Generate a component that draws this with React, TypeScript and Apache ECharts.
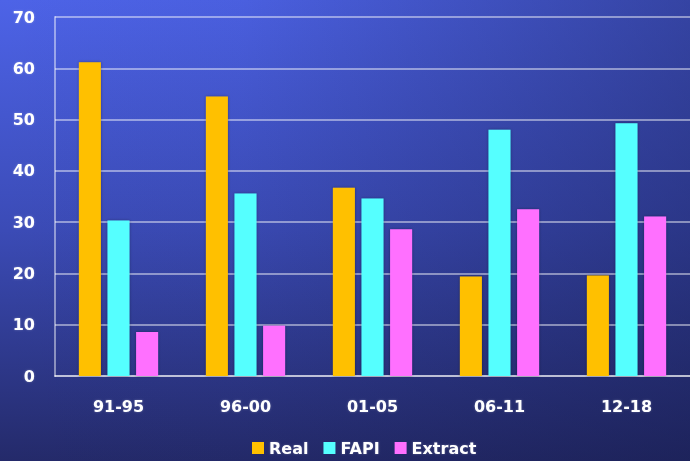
import React, { useEffect, useRef } from "react";
import * as echarts from "echarts";

const categories = ["91-95", "96-00", "01-05", "06-11", "12-18"];
const realValues = [61.2, 54.5, 36.7, 19.4, 19.6];
const fapiValues = [30.3, 35.6, 34.6, 48.0, 49.3];
const extractValues = [8.6, 9.8, 28.6, 32.5, 31.1];
const yTicks = { min: 0, max: 70, interval: 10 };

const FONT = "'DejaVu Sans', sans-serif";

export default function App() {
  const ref = useRef<HTMLDivElement>(null);
  useEffect(() => {
    document.body.style.margin = "0";
    const chart = echarts.init(ref.current!, undefined, { renderer: "svg" });
    const barStyle = (color: string) => ({
      color,
      shadowColor: "rgba(0,0,0,0.35)",
      shadowBlur: 3,
    });
    const labelStyle = {
      color: "#ffffff",
      fontWeight: "bold",
      fontSize: 16,
      fontFamily: FONT,
      textShadowColor: "rgba(255,255,255,0.25)",
      textShadowBlur: 2,
    };
    chart.setOption({
      animation: false,
      backgroundColor: {
        type: "linear",
        x: 0,
        y: 0,
        x2: 0,
        y2: 1,
        colorStops: [
          { offset: 0, color: "#4d63e7" },
          { offset: 0.5, color: "#3b4bb6" },
          { offset: 1, color: "#242a6a" },
        ],
      },
      graphic: [
        {
          type: "rect",
          silent: true,
          z: -10,
          shape: { x: 0, y: 0, width: 690, height: 461 },
          style: {
            fill: {
              type: "linear",
              x: 0,
              y: 0,
              x2: 1,
              y2: 0,
              colorStops: [
                { offset: 0, color: "rgba(20,25,70,0)" },
                { offset: 0.35, color: "rgba(20,25,70,0.05)" },
                { offset: 1, color: "rgba(20,25,70,0.42)" },
              ],
            },
          },
        },
      ],
      grid: { left: 55, width: 645, top: 17, bottom: 85 },
      legend: {
        left: 252,
        top: 440,
        padding: 0,
        itemWidth: 12,
        itemHeight: 12,
        itemGap: 15,
        icon: "rect",
        textStyle: { ...labelStyle },
        data: ["Real", "FAPI", "Extract"],
      },
      xAxis: {
        type: "category",
        data: categories,
        axisLine: { show: true, lineStyle: { color: "rgba(255,255,255,0.45)", width: 2 } },
        axisTick: { show: false },
        axisLabel: { ...labelStyle, margin: 22 },
      },
      yAxis: {
        type: "value",
        min: yTicks.min,
        max: yTicks.max,
        interval: yTicks.interval,
        axisLine: { show: true, lineStyle: { color: "rgba(255,255,255,0.45)", width: 2 } },
        axisTick: { show: false },
        splitLine: { lineStyle: { color: "rgba(255,255,255,0.45)", width: 2 } },
        axisLabel: { ...labelStyle, margin: 20 },
      },
      series: [
        { name: "Real", type: "bar", data: realValues, barWidth: 22, barGap: "30%", itemStyle: barStyle("#ffc000") },
        { name: "FAPI", type: "bar", data: fapiValues, barWidth: 22, barGap: "30%", itemStyle: barStyle("#55ffff") },
        { name: "Extract", type: "bar", data: extractValues, barWidth: 22, barGap: "30%", itemStyle: barStyle("#ff70ff") },
      ],
    });
    return () => chart.dispose();
  }, []);
  return <div ref={ref} style={{ width: 690, height: 461 }} />;
}
